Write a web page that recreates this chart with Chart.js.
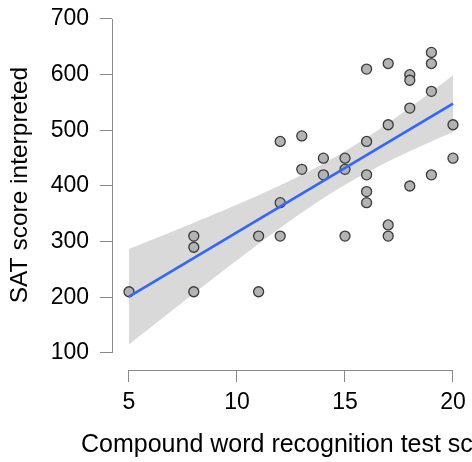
<!DOCTYPE html>
<html>
<head>
<meta charset="utf-8">
<script src="https://cdn.jsdelivr.net/npm/chart.js@4/dist/chart.umd.min.js"></script>
<style>
    html, body { margin: 0; padding: 0; background: #fff; }
    canvas { display: block; }
</style>
</head>
<body>
<canvas id="chart" width="472" height="462"></canvas>
<script>
// data
const wordScores = [5, 8, 8, 8, 11, 11, 12, 12, 12, 13, 13, 14, 14, 15, 15, 15,
    16, 16, 16, 16, 16, 17, 17, 17, 17, 18, 18, 18, 18, 19, 19, 19, 19, 20, 20];
const satScores = [210, 310, 290, 210, 310, 210, 480, 370, 310, 490, 430, 450, 420, 450, 430, 310,
    610, 480, 420, 390, 370, 620, 510, 330, 310, 600, 590, 540, 400, 640, 620, 570, 420, 510, 450];
const xTicks = [5, 10, 15, 20];
const yTicks = [100, 200, 300, 400, 500, 600, 700];
const xTitle = 'Compound word recognition test score';
const yTitle = 'SAT score interpreted';
const tQuantile = 2.0345; // t(0.975, df = 33)

const FONT = '"Liberation Sans", Arial, Helvetica, sans-serif';
const AXIS_GREY = '#8a8a8a';

// linear fit with 95% confidence band, like geom_smooth(method = "lm")
function linearFit(xs, ys) {
    const n = xs.length;
    const mx = xs.reduce((a, b) => a + b, 0) / n;
    const my = ys.reduce((a, b) => a + b, 0) / n;
    let sxx = 0, sxy = 0;
    xs.forEach((x, i) => {
        sxx += (x - mx) * (x - mx);
        sxy += (x - mx) * (ys[i] - my);
    });
    const slope = sxy / sxx;
    const icept = my - slope * mx;
    let sse = 0;
    xs.forEach((x, i) => {
        const r = ys[i] - (icept + slope * x);
        sse += r * r;
    });
    const s = Math.sqrt(sse / (n - 2));
    const predict = x => icept + slope * x;
    const halfWidth = x => tQuantile * s * Math.sqrt(1 / n + (x - mx) * (x - mx) / sxx);
    return { predict, halfWidth };
}

const fit = linearFit(wordScores, satScores);
const xMin = Math.min(...wordScores);
const xMax = Math.max(...wordScores);
const grid = [];
for (let i = 0; i <= 80; i++) grid.push(xMin + (xMax - xMin) * i / 80);

const fitLine = [{ x: xMin, y: fit.predict(xMin) }, { x: xMax, y: fit.predict(xMax) }];
const bandUpper = grid.map(x => ({ x, y: fit.predict(x) + fit.halfWidth(x) }));
const bandLower = grid.map(x => ({ x, y: fit.predict(x) - fit.halfWidth(x) }));
const points = wordScores.map((x, i) => ({ x, y: satScores[i] }));

// axis lines only span the tick range (base-R look), plus the x title
// drawn by hand so it runs off the right edge instead of being squeezed
const rangeAxes = {
    id: 'rangeAxes',
    afterDraw(chart) {
        const { ctx, chartArea, scales } = chart;
        ctx.save();
        ctx.strokeStyle = AXIS_GREY;
        ctx.lineWidth = 1;
        ctx.beginPath();
        const ax = Math.round(chartArea.left) + 0.5;
        ctx.moveTo(ax, scales.y.getPixelForValue(yTicks[0]));
        ctx.lineTo(ax, scales.y.getPixelForValue(yTicks[yTicks.length - 1]));
        const ay = Math.round(chartArea.bottom) + 0.5;
        ctx.moveTo(scales.x.getPixelForValue(xTicks[0]), ay);
        ctx.lineTo(scales.x.getPixelForValue(xTicks[xTicks.length - 1]), ay);
        ctx.stroke();

        ctx.fillStyle = '#000';
        ctx.font = '25px ' + FONT;
        ctx.textAlign = 'center';
        ctx.textBaseline = 'middle';
        ctx.fillText(xTitle, (chartArea.left + chartArea.right) / 2 + 3, chart.height - 16.5);
        ctx.restore();
    }
};

function noPad(scale) {
    scale.paddingTop = 0;
    scale.paddingBottom = 0;
    scale.paddingLeft = 0;
    scale.paddingRight = 0;
}

new Chart(document.getElementById('chart'), {
    type: 'scatter',
    data: {
        datasets: [
            {
                type: 'line',
                data: fitLine,
                borderColor: '#3366ff',
                borderWidth: 2.7,
                pointRadius: 0,
                fill: false
            },
            {
                data: points,
                pointRadius: 5,
                pointBackgroundColor: '#b3b3b3',
                pointBorderColor: '#3a3a3a',
                pointBorderWidth: 1.3
            },
            {
                type: 'line',
                data: bandUpper,
                borderWidth: 0,
                pointRadius: 0,
                fill: '+1',
                backgroundColor: '#d9d9d9'
            },
            {
                type: 'line',
                data: bandLower,
                borderWidth: 0,
                pointRadius: 0,
                fill: false
            }
        ]
    },
    options: {
        responsive: false,
        animation: false,
        layout: { padding: 0, autoPadding: false },
        plugins: {
            legend: { display: false },
            tooltip: { enabled: false }
        },
        scales: {
            x: {
                type: 'linear',
                min: 4.213,
                max: 20.88,
                afterBuildTicks: scale => { scale.ticks = xTicks.map(v => ({ value: v })); },
                afterFit: scale => { scale.height = 92; noPad(scale); },
                border: { display: false },
                grid: { drawOnChartArea: false, tickLength: 12, color: AXIS_GREY, tickColor: AXIS_GREY },
                ticks: { color: '#000', padding: 7, font: { family: FONT, size: 23 }, maxRotation: 0 }
            },
            y: {
                type: 'linear',
                min: 69.46,
                max: 734.13,
                afterBuildTicks: scale => { scale.ticks = yTicks.map(v => ({ value: v })); },
                afterFit: scale => { scale.width = 112; noPad(scale); },
                border: { display: false },
                grid: { drawOnChartArea: false, tickLength: 12, color: AXIS_GREY, tickColor: AXIS_GREY },
                ticks: { color: '#000', padding: 11, font: { family: FONT, size: 23 } },
                title: {
                    display: true,
                    text: yTitle,
                    color: '#000',
                    font: { family: FONT, size: 24.5 },
                    padding: { top: 6, bottom: 0 }
                }
            }
        }
    },
    plugins: [rangeAxes]
});
</script>
</body>
</html>
